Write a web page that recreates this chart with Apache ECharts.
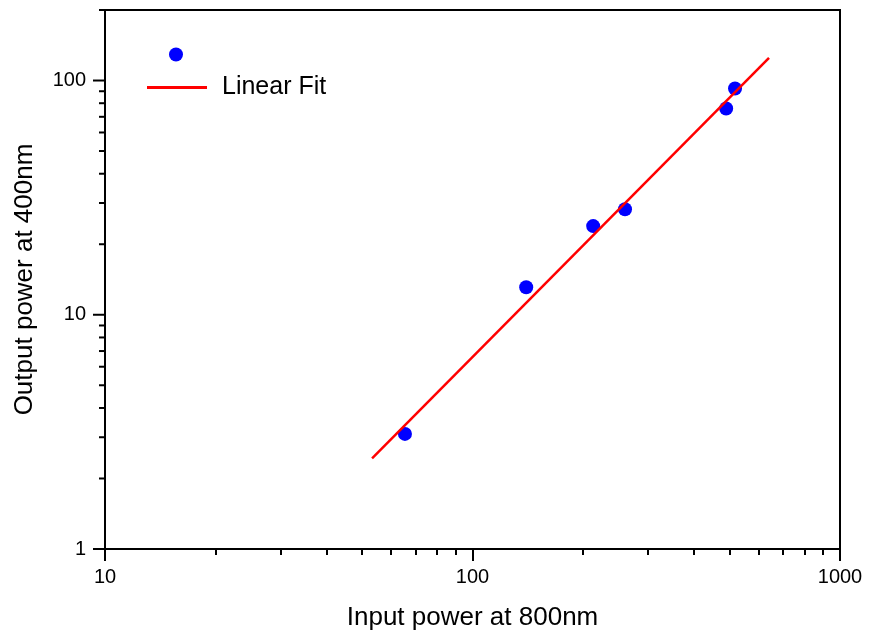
<!DOCTYPE html>
<html>
<head>
<meta charset="utf-8">
<script src="https://cdn.jsdelivr.net/npm/echarts@6/dist/echarts.min.js"></script>
<style>
html, body { margin: 0; padding: 0; background: #fff; }
#main { width: 869px; height: 637px; }
</style>
</head>
<body>
<div id="main"></div>
<script>
// 測量值 (input mW, output mW)
var inputPower = [65.5, 140, 213, 260, 490, 518];
var outputPower = [3.1, 13.1, 23.9, 28.2, 76, 92.5];
// 線性擬合的兩端
var fitX = [53.3, 641];
var fitY = [2.44, 125];
// y軸刻度
var yMajor = [1, 10, 100];
var yMinor = [2, 3, 4, 5, 6, 7, 8, 9, 20, 30, 40, 50, 60, 70, 80, 90, 200];

var myChart = echarts.init(document.getElementById('main'));

var font = 'Arial, "Liberation Sans", sans-serif';

var axisCommon = {
	type: 'log',
	logBase: 10,
	nameLocation: 'middle',
	nameTextStyle: { fontFamily: font, fontSize: 26, color: '#000' },
	axisLine: { lineStyle: { color: '#000', width: 2 } },
	axisTick: { inside: false, length: 12, lineStyle: { color: '#000', width: 2 } },
	axisLabel: {
		fontFamily: font, fontSize: 20, color: '#000',
		formatter: function (v) { return String(Math.round(v)); }
	},
	splitLine: { show: false },
	minorSplitLine: { show: false }
};

var legendText = { fontFamily: font, fontSize: 25, color: '#000', padding: [0, 0, 0, 10] };

myChart.setOption({
	animation: false,
	grid: { left: 105, right: 29, top: 10, bottom: 88, show: true, borderColor: '#000', borderWidth: 2 },
	// 圖例分兩個：圓點 / 線
	legend: [{
		left: 169,
		top: 42,
		padding: 0,
		itemWidth: 14,
		itemHeight: 14,
		textStyle: legendText,
		data: [{ name: ' ', icon: 'circle' }]
	}, {
		left: 147,
		top: 75,
		padding: 0,
		itemWidth: 60,
		itemHeight: 3,
		textStyle: legendText,
		data: [{ name: 'Linear Fit', icon: 'rect' }]
	}],
	xAxis: echarts.util.merge({
		min: 10,
		max: 1000,
		name: 'Input power at 800nm',
		nameGap: 56,
		minorTick: { show: true, splitNumber: 9, length: 6, lineStyle: { color: '#000', width: 2 } },
		axisLabel: { margin: 18 }
	}, axisCommon),
	yAxis: echarts.util.merge({
		min: 1,
		max: 200,
		name: 'Output power at 400nm',
		nameGap: 67,
		axisTick: { show: false },
		axisLabel: { margin: 19, showMaxLabel: false }
	}, axisCommon),
	series: [{
		name: ' ',
		type: 'scatter',
		symbolSize: 14,
		itemStyle: { color: '#0000ff', opacity: 1 },
		data: inputPower.map(function (x, i) { return [x, outputPower[i]]; })
	}, {
		name: 'Linear Fit',
		type: 'line',
		symbol: 'none',
		lineStyle: { color: '#ff0000', width: 2.5 },
		itemStyle: { color: '#ff0000' },
		data: fitX.map(function (x, i) { return [x, fitY[i]]; })
	}, {
		// y軸刻度線（主刻度長、次刻度短）
		type: 'custom',
		silent: true,
		clip: false,
		z: 5,
		renderItem: function (params, api) {
			var v = api.value(1);
			var p = api.coord([api.value(0), v]);
			var len = yMajor.indexOf(v) >= 0 ? 12 : 6;
			return {
				type: 'line',
				shape: { x1: p[0] - len, y1: p[1], x2: p[0], y2: p[1] },
				style: { stroke: '#000', lineWidth: 2 }
			};
		},
		data: yMajor.concat(yMinor).map(function (v) { return [10, v]; })
	}]
});
</script>
</body>
</html>
